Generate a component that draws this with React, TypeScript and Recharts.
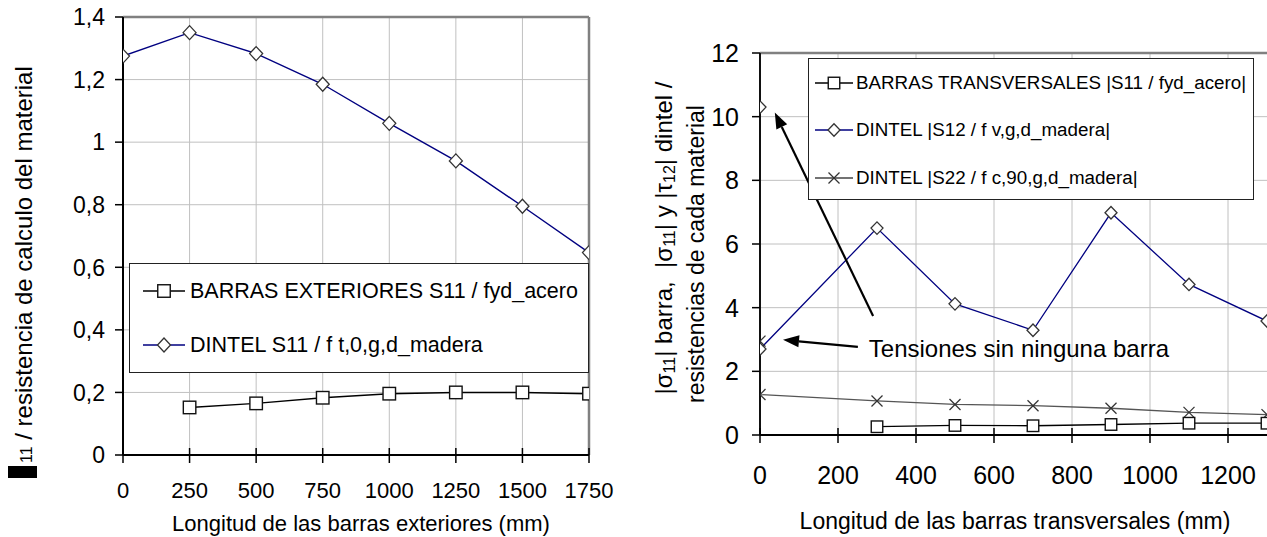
import React from 'react';
import { LineChart, Line, XAxis, YAxis, CartesianGrid, Legend, ReferenceLine, ReferenceDot } from 'recharts';

const FONT = '"Liberation Sans", Arial, Helvetica, sans-serif';

// ---------- Left chart data ----------
const exterioresLengths = [0, 250, 500, 750, 1000, 1250, 1500, 1750];
const barrasExterioresLengths = [250, 500, 750, 1000, 1250, 1500, 1750];
const barrasExterioresS11 = [0.152, 0.165, 0.183, 0.196, 0.2, 0.2, 0.196];
const dintelS11 = [1.275, 1.35, 1.283, 1.185, 1.06, 0.94, 0.795, 0.647];
const leftYTicks = [0, 0.2, 0.4, 0.6, 0.8, 1, 1.2, 1.4];
const leftXTicks = [0, 250, 500, 750, 1000, 1250, 1500, 1750];
const leftLegendLabels = ['BARRAS EXTERIORES S11 / fyd_acero', 'DINTEL S11 / f t,0,g,d_madera'];

// ---------- Right chart data ----------
const barrasTransLengths = [300, 500, 700, 900, 1100, 1300];
const barrasTransS11 = [0.26, 0.3, 0.29, 0.33, 0.37, 0.37];
const dintelLengths = [0, 0, 300, 500, 700, 900, 1100, 1300];
const dintelS12 = [10.3, 2.7, 6.5, 4.12, 3.29, 6.98, 4.73, 3.58];
const dintelS22 = [2.95, 1.27, 1.07, 0.96, 0.92, 0.84, 0.71, 0.64];
const rightYTicks = [0, 2, 4, 6, 8, 10, 12];
const rightXTicks = [0, 200, 400, 600, 800, 1000, 1200];
const rightLegendLabels = [
  'BARRAS TRANSVERSALES |S11 / fyd_acero|',
  'DINTEL |S12 / f v,g,d_madera|',
  'DINTEL |S22 / f c,90,g,d_madera|',
];
const annotationText = 'Tensiones sin ninguna barra';
const arrow1 = [[290, 3.74], [38, 10.13]];
const arrow2 = [[251, 2.77], [59, 2.99]];
const annotationPos = [279, 2.73];

const zip = (xs: number[], ys: number[]) => xs.map((x, i) => ({ x, y: ys[i] }));

const leftBarras = zip(barrasExterioresLengths, barrasExterioresS11);
const leftDintel = zip(exterioresLengths, dintelS11);
const rightBarras = zip(barrasTransLengths, barrasTransS11);
const rightS12 = zip(dintelLengths, dintelS12);
const rightS22 = zip(dintelLengths, dintelS22);

const NAVY = '#000080';

// ---------- markers ----------
const Square = ({ cx, cy, s }: any) => (
  <rect x={cx - s / 2} y={cy - s / 2} width={s} height={s} fill="#fff" stroke="#111" strokeWidth={1.4} />
);
const Diamond = ({ cx, cy, w, h }: any) => (
  <path d={`M${cx},${cy - h / 2} L${cx + w / 2},${cy} L${cx},${cy + h / 2} L${cx - w / 2},${cy} Z`} fill="#fff" stroke="#333" strokeWidth={1.3} />
);
const Cross = ({ cx, cy, s }: any) => (
  <g stroke="#333" strokeWidth={1.3}>
    <line x1={cx - s / 2} y1={cy - s / 2} x2={cx + s / 2} y2={cy + s / 2} />
    <line x1={cx - s / 2} y1={cy + s / 2} x2={cx + s / 2} y2={cy - s / 2} />
  </g>
);

const marker = (shape: string, cx: number, cy: number, big: boolean) => {
  if (shape === 'square') return <Square cx={cx} cy={cy} s={big ? 12.5 : 11.5} />;
  if (shape === 'diamond') return <Diamond cx={cx} cy={cy} w={big ? 13 : 12} h={big ? 14 : 12.5} />;
  return <Cross cx={cx} cy={cy} s={11} />;
};

// ---------- ticks ----------
const fmtComma = (v: number) => String(Math.round(v * 10) / 10).replace('.', ',');

const makeXTick = (offset: number, fs: number, fmt: (v: number) => string) => (props: any) => {
  const { x, y, payload } = props;
  return (
    <g>
      <line x1={x} x2={x} y1={y - 7} y2={y + 8} stroke="#000" strokeWidth={1.5} />
      <text x={x} y={y + offset} dy="0.36em" textAnchor="middle" fontSize={fs} fontFamily={FONT} fill="#000">
        {fmt(payload.value)}
      </text>
    </g>
  );
};
const makeYTick = (offset: number, fs: number, fmt: (v: number) => string) => (props: any) => {
  const { x, y, payload } = props;
  return (
    <g>
      <line x1={x - 8} x2={x} y1={y} y2={y} stroke="#000" strokeWidth={1.5} />
      <text x={x - offset} y={y} dy="0.36em" textAnchor="end" fontSize={fs} fontFamily={FONT} fill="#000">
        {fmt(payload.value)}
      </text>
    </g>
  );
};

// ---------- legend ----------
const LegendBox = ({ items, width, height, fontSize, rows, lineX1, lineX2, markerX, textX, big }: any) => (
  <div
    style={{
      position: 'relative',
      width,
      height,
      boxSizing: 'border-box',
      border: '1.5px solid #222',
      background: '#fff',
    }}
  >
    {items.map((it: any, i: number) => (
      <div key={i} style={{ position: 'absolute', left: 0, top: rows[i] - 15, height: 30, width: '100%' }}>
        <svg style={{ position: 'absolute', left: 0, top: 0 }} width={textX} height={30}>
          <line x1={lineX1} x2={lineX2} y1={15} y2={15} stroke={it.color} strokeWidth={1.4} />
          {marker(it.shape, markerX, 15, big)}
        </svg>
        <span
          style={{
            position: 'absolute',
            left: textX,
            top: 0,
            lineHeight: '30px',
            fontSize,
            fontFamily: FONT,
            whiteSpace: 'nowrap',
            color: '#000',
          }}
        >
          {it.label}
        </span>
      </div>
    ))}
  </div>
);

// ---------- arrow ----------
const Arrow = (p: any) => {
  const { x1, y1, x2, y2 } = p;
  const dx = x2 - x1;
  const dy = y2 - y1;
  const len = Math.sqrt(dx * dx + dy * dy);
  const ux = dx / len;
  const uy = dy / len;
  const hl = 16;
  const hw = 6;
  const bx = x2 - ux * hl;
  const by = y2 - uy * hl;
  return (
    <g>
      <line x1={x1} y1={y1} x2={bx} y2={by} stroke="#000" strokeWidth={2.2} />
      <path d={`M${x2},${y2} L${bx - uy * hw},${by + ux * hw} L${bx + uy * hw},${by - ux * hw} Z`} fill="#000" />
    </g>
  );
};

// ---------- axis titles ----------
const LeftYTitle = () => (
  <g>
    <rect x={8} y={466} width={29} height={12} fill="#000" />
    <text transform="translate(32,463) rotate(-90)" fontFamily={FONT} fill="#000" fontSize={24}>
      <tspan fontSize={16}>11</tspan>
      <tspan fontSize={24}> / resistencia de calculo del material</tspan>
    </text>
  </g>
);
const LeftXTitle = () => (
  <text x={361} y={531} textAnchor="middle" fontFamily={FONT} fontSize={22} fill="#000">
    Longitud de las barras exteriores (mm)
  </text>
);
const RightYTitle = () => (
  <g fontFamily={FONT} fill="#000">
    <text transform="translate(72,238) rotate(-90)" textAnchor="middle" fontSize={24} style={{ whiteSpace: 'pre' }}>
      <tspan>|σ</tspan>
      <tspan fontSize={16} dy={3}>11</tspan>
      <tspan dy={-3}>| barra,  |σ</tspan>
      <tspan fontSize={16} dy={3}>11</tspan>
      <tspan dy={-3}>| y |τ</tspan>
      <tspan fontSize={16} dy={3}>12</tspan>
      <tspan dy={-3}>| dintel /</tspan>
    </text>
    <text transform="translate(104,254) rotate(-90)" textAnchor="middle" fontSize={23}>
      resistencias de cada material
    </text>
  </g>
);
const RightXTitle = () => (
  <text x={415} y={529} textAnchor="middle" fontFamily={FONT} fontSize={23} fill="#000">
    Longitud de las barras transversales (mm)
  </text>
);

const dotFn = (shape: string, big: boolean) => (p: any) => (
  <g key={`d-${shape}-${p.index}`}>{marker(shape, p.cx, p.cy, big)}</g>
);

export default function App() {
  const leftItems = [
    { label: leftLegendLabels[0], color: '#000', shape: 'square' },
    { label: leftLegendLabels[1], color: NAVY, shape: 'diamond' },
  ];
  const rightItems = [
    { label: rightLegendLabels[0], color: '#000', shape: 'square' },
    { label: rightLegendLabels[1], color: NAVY, shape: 'diamond' },
    { label: rightLegendLabels[2], color: '#444', shape: 'cross' },
  ];
  return (
    <div style={{ position: 'absolute', left: 0, top: 0, width: 1267, height: 537, overflow: 'hidden', background: '#fff' }}>
      <div style={{ position: 'absolute', left: 0, top: 0, width: 640, height: 537 }}>
        <LineChart width={640} height={537} margin={{ top: 17, right: 51, bottom: 0, left: 0 }}>
          <CartesianGrid stroke="#c0c0c0" strokeWidth={1} />
          <XAxis
            dataKey="x"
            type="number"
            domain={[0, 1750]}
            ticks={leftXTicks}
            height={82}
            tickSize={0}
            tickMargin={0}
            tickLine={false}
            axisLine={{ stroke: '#000', strokeWidth: 2 }}
            tick={makeXTick(35, 22, (v) => String(v))}
            label={{ content: () => <LeftXTitle /> }}
            allowDataOverflow
          />
          <YAxis
            type="number"
            domain={[0, 1.4]}
            ticks={leftYTicks}
            width={123}
            tickSize={0}
            tickMargin={0}
            tickLine={false}
            axisLine={{ stroke: '#000', strokeWidth: 2 }}
            tick={makeYTick(18, 23, fmtComma)}
            label={{ content: () => <LeftYTitle /> }}
            allowDataOverflow
          />
          <ReferenceLine y={1.4} stroke="#808080" strokeWidth={2.5} />
          <ReferenceLine x={1750} stroke="#808080" strokeWidth={2.5} />
          <Line
            data={leftBarras}
            dataKey="y"
            type="linear"
            stroke="#000"
            strokeWidth={1.4}
            dot={dotFn('square', true)}
            activeDot={false}
            isAnimationActive={false}
            name={leftLegendLabels[0]}
          />
          <Line
            data={leftDintel}
            dataKey="y"
            type="linear"
            stroke={NAVY}
            strokeWidth={1.4}
            dot={dotFn('diamond', true)}
            activeDot={false}
            isAnimationActive={false}
            name={leftLegendLabels[1]}
          />
          <Legend
            layout="vertical"
            verticalAlign="middle"
            align="center"
            wrapperStyle={{ left: 129, top: 263, width: 460, height: 110 }}
            content={() => (
              <LegendBox
                items={leftItems}
                width={460}
                height={110}
                fontSize={21.5}
                rows={[27, 81]}
                lineX1={13}
                lineX2={55}
                markerX={34}
                textX={60}
                big
              />
            )}
          />
        </LineChart>
      </div>
      <div style={{ position: 'absolute', left: 600, top: 0, width: 667, height: 537, overflow: 'hidden' }}>
        <LineChart width={720} height={537} margin={{ top: 53, right: 14, bottom: 0, left: 0 }}>
          <CartesianGrid stroke="#c0c0c0" strokeWidth={1} verticalPoints={undefined} />
          <XAxis
            dataKey="x"
            type="number"
            domain={[0, 1400]}
            ticks={rightXTicks}
            height={102}
            tickSize={0}
            tickMargin={0}
            tickLine={false}
            axisLine={{ stroke: '#000', strokeWidth: 2 }}
            tick={makeXTick(40, 25, (v) => String(v))}
            label={{ content: () => <RightXTitle /> }}
            allowDataOverflow
          />
          <YAxis
            type="number"
            domain={[0, 12]}
            ticks={rightYTicks}
            width={160}
            tickSize={0}
            tickMargin={0}
            tickLine={false}
            axisLine={{ stroke: '#111', strokeWidth: 2 }}
            tick={makeYTick(21, 25, (v) => String(v))}
            label={{ content: () => <RightYTitle /> }}
            allowDataOverflow
          />
          <ReferenceLine y={12} stroke="#808080" strokeWidth={2.5} />
          <Line
            data={rightS22}
            dataKey="y"
            type="linear"
            stroke="#555"
            strokeWidth={1.3}
            dot={dotFn('cross', false)}
            activeDot={false}
            isAnimationActive={false}
            name={rightLegendLabels[2]}
          />
          <Line
            data={rightBarras}
            dataKey="y"
            type="linear"
            stroke="#000"
            strokeWidth={1.3}
            dot={dotFn('square', false)}
            activeDot={false}
            isAnimationActive={false}
            name={rightLegendLabels[0]}
          />
          <Line
            data={rightS12}
            dataKey="y"
            type="linear"
            stroke={NAVY}
            strokeWidth={1.3}
            dot={dotFn('diamond', false)}
            activeDot={false}
            isAnimationActive={false}
            name={rightLegendLabels[1]}
          />
          <ReferenceLine
            segment={[{ x: arrow1[0][0], y: arrow1[0][1] }, { x: arrow1[1][0], y: arrow1[1][1] }]}
            ifOverflow="visible"
            shape={(p: any) => <Arrow {...p} />}
          />
          <ReferenceLine
            segment={[{ x: arrow2[0][0], y: arrow2[0][1] }, { x: arrow2[1][0], y: arrow2[1][1] }]}
            ifOverflow="visible"
            shape={(p: any) => <Arrow {...p} />}
          />
          <ReferenceDot
            x={annotationPos[0]}
            y={annotationPos[1]}
            ifOverflow="visible"
            shape={(p: any) => (
              <text x={p.cx} y={p.cy} dy="0.36em" textAnchor="start" fontFamily={FONT} fontSize={24} fill="#000">
                {annotationText}
              </text>
            )}
          />
          <Legend
            layout="vertical"
            verticalAlign="middle"
            align="center"
            wrapperStyle={{ left: 208, top: 58, width: 446, height: 142 }}
            content={() => (
              <LegendBox
                items={rightItems}
                width={446}
                height={142}
                fontSize={18.8}
                rows={[24, 71, 119]}
                lineX1={6}
                lineX2={44}
                markerX={25}
                textX={47}
                big={false}
              />
            )}
          />
        </LineChart>
      </div>
    </div>
  );
}
